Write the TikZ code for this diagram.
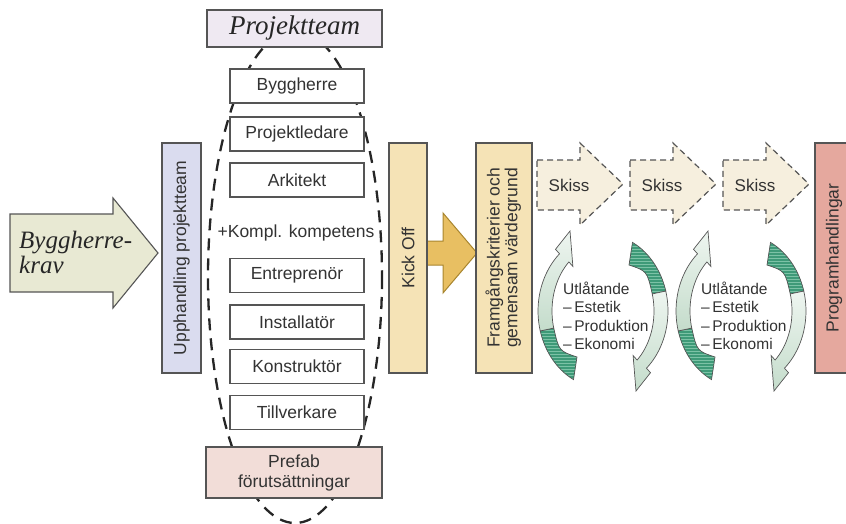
\documentclass[tikz,border=0pt]{standalone}
\usepackage{fontspec}
\usepackage{graphicx}
\setmainfont{Liberation Serif}
\setsansfont{Liberation Sans}
\usetikzlibrary{patterns}
\definecolor{txt}{HTML}{333333}
\definecolor{edge}{HTML}{555555}
\definecolor{khaki}{HTML}{E8E9D3}
\definecolor{lav}{HTML}{DADCEF}
\definecolor{teamc}{HTML}{EFE9F2}
\definecolor{pinkc}{HTML}{F2DDD8}
\definecolor{kickc}{HTML}{F5E3B6}
\definecolor{gold}{HTML}{E8BF62}
\definecolor{goldedge}{HTML}{A8852E}
\definecolor{skissc}{HTML}{F6EFDE}
\definecolor{progc}{HTML}{E5A89E}
\definecolor{dkgreen}{HTML}{3E9A78}
\definecolor{hatchc}{HTML}{7CC2A6}
\definecolor{ltgreen}{HTML}{D4E6D9}
\definecolor{ltgreenA}{HTML}{EEF5F0}
\definecolor{ltgreenB}{HTML}{C4DCCB}
\newcommand{\cyclearrow}{%
  \path[preaction={fill=dkgreen}, pattern=horizontal lines, pattern color=hatchc, draw=edge, line width=0.7pt]
    plot[domain=165:117, samples=16] ({65*cos(\x)},{77*sin(\x)}) -- (-26,46)
    .. controls (-44,40) .. ({51*cos(165)},{66*sin(165)}) -- cycle;
  \path[top color=ltgreenA, bottom color=ltgreenB, draw=edge, line width=0.7pt]
    plot[domain=165:228, samples=20] ({65*cos(\x)},{77*sin(\x)})
    -- (228:71 and 83) -- (-33,-80) -- (228:45 and 60)
    -- plot[domain=228:165, samples=20] ({51*cos(\x)},{66*sin(\x)}) -- cycle;
}
\begin{document}
\begin{tikzpicture}[x=1pt,y=-1pt,
  sans/.style={font=\sffamily\fontsize{17.5}{17}\selectfont, text=txt},
  box/.style={draw=edge, line width=1.1pt, inner sep=0pt, sans},
  member/.style={box, fill=white, minimum width=134, minimum height=34},
  tallbox/.style={box, minimum height=230},
  serifit/.style={font=\itshape\fontsize{25}{25}\selectfont, text=black!85, inner sep=0pt},
  small/.style={font=\sffamily\fontsize{15.5}{18}\selectfont, text=txt, inner sep=0pt, anchor=base west},
  ovaldash/.style={draw=black!85, line width=2.3pt, dash pattern=on 12pt off 8pt},
  skissbox/.style={fill=skissc, draw=edge, line width=1.2pt, dash pattern=on 6pt off 4pt},
  ]
\useasboundingbox (0,0) rectangle (846,523);
\clip (0,0) rectangle (846,523);

% oval behind the team
\draw[ovaldash] (295,277) ellipse [x radius=87, y radius=246];

% Byggherrekrav arrow
\draw[fill=khaki, draw=edge, line width=1.1pt]
  (10,214) -- (113,214) -- (113,198) -- (158,253) -- (113,308) -- (113,292) -- (10,292) -- cycle;
\node[serifit, anchor=base west] (bk1) at (19,248) {Byggherre-};
\node[serifit, anchor=base west] (bk2) at (19,273) {krav};

% Upphandling
\node[tallbox, fill=lav, minimum width=39] (upph) at (181.5,258) {\rotatebox{90}{Upphandling projektteam}};

% Projektteam
\node[box, fill=teamc, minimum width=175, minimum height=37,
      font=\itshape\fontsize{27}{27}\selectfont, text=black!85] (team) at (294.5,28.5) {Projektteam};

% members
\node[member] (m1) at (297,86) {Byggherre};
\node[member] (m2) at (297,134) {Projektledare};
\node[member] (m3) at (297,180) {Arkitekt};
\node[sans, inner sep=0pt] (m4) at (296,233) {+Kompl. kompetens};
\node[member] (m5) at (297,275.5) {Entreprenör};
\node[member] (m6) at (297,322) {Installatör};
\node[member] (m7) at (297,366.5) {Konstruktör};
\node[member] (m8) at (297,412.5) {Tillverkare};

% Prefab
\node[box, fill=pinkc, minimum width=176, minimum height=51, align=center,
      font=\sffamily\fontsize{17.5}{20}\selectfont] (prefab) at (294,472.5) {Prefab\\förutsättningar};

% gold arrow between Kick Off and Framgang
\draw[fill=gold, draw=goldedge, line width=1pt]
  (427,241) -- (443,241) -- (443,213) -- (477,253) -- (443,293) -- (443,265) -- (427,265) -- cycle;

% Kick Off
\node[tallbox, fill=kickc, minimum width=38] (kick) at (408,258) {\rotatebox{90}{Kick Off}};

% Framgang
\node[tallbox, fill=kickc, minimum width=56] (fram) at (504,258)
  {\rotatebox{90}{\begin{tabular}{@{}c@{}}Framgångskriterier och\\gemensam värdegrund\end{tabular}}};

% Programhandlingar
\node[tallbox, fill=progc, minimum width=38] (prog) at (834,258) {\rotatebox{90}{Programhandlingar}};

% Skiss arrows
\foreach \L/\n in {537/s1, 630/s2, 723/s3}{
  \draw[skissbox] (\L,160) -- (\L+43,160) -- (\L+43,143) -- (\L+86,184) -- (\L+43,225) -- (\L+43,210) -- (\L,210) -- cycle;
  \node[sans, inner sep=0pt, font=\sffamily\fontsize{17}{17}\selectfont] (\n) at (\L+32,185) {Skiss};
}

% review cycles
\foreach \cx/\k in {603/a, 741/b}{
  \begin{scope}[shift={(\cx,311)}]
    \cyclearrow
  \end{scope}
  \begin{scope}[shift={(\cx,311)}, rotate=180]
    \cyclearrow
  \end{scope}
  \node[small] (u1\k) at (\cx-40,294) {Utlåtande};
  \node[small] (u2\k) at (\cx-40,312.5) {–\,Estetik};
  \node[small] (u3\k) at (\cx-40,331) {–\,Produktion};
  \node[small] (u4\k) at (\cx-40,349.5) {–\,Ekonomi};
}
\end{tikzpicture}
\end{document}
